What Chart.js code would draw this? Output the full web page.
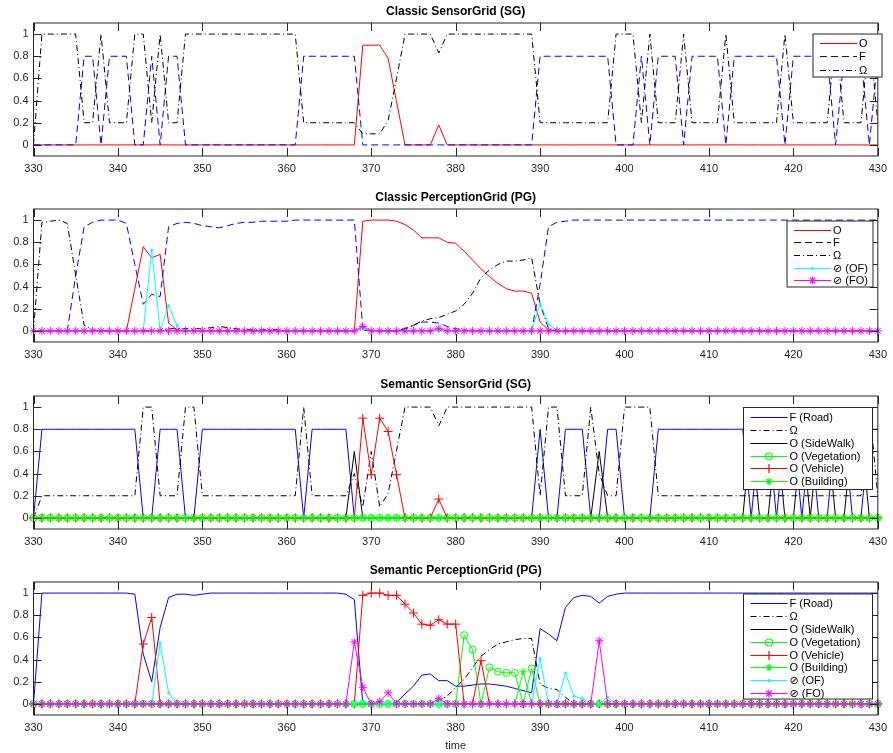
<!DOCTYPE html>
<html>
<head>
<meta charset="utf-8">
<script src="https://cdn.jsdelivr.net/npm/chart.js@4.4.0/dist/chart.umd.min.js"></script>
<style>
  body { margin: 0; background: #fff; }
  #wrap { position: relative; width: 893px; height: 753px; }
  canvas { position: absolute; left: 0; }
</style>
</head>
<body>
<div id="wrap">
  <canvas id="c1" width="893" height="180" style="top:0px"></canvas>
  <canvas id="c2" width="893" height="180" style="top:186px"></canvas>
  <canvas id="c3" width="893" height="180" style="top:373px"></canvas>
  <canvas id="c4" width="893" height="194" style="top:559px"></canvas>
</div>
<script>
// time steps (x categories)
const time = [
  330, 331, 332, 333, 334, 335, 336, 337, 338, 339,
  340, 341, 342, 343, 344, 345, 346, 347, 348, 349,
  350, 351, 352, 353, 354, 355, 356, 357, 358, 359,
  360, 361, 362, 363, 364, 365, 366, 367, 368, 369,
  370, 371, 372, 373, 374, 375, 376, 377, 378, 379,
  380, 381, 382, 383, 384, 385, 386, 387, 388, 389,
  390, 391, 392, 393, 394, 395, 396, 397, 398, 399,
  400, 401, 402, 403, 404, 405, 406, 407, 408, 409,
  410, 411, 412, 413, 414, 415, 416, 417, 418, 419,
  420, 421, 422, 423, 424, 425, 426, 427, 428, 429,
  430
];
const yTicks = [0, 0.2, 0.4, 0.6, 0.8, 1];
const yTickLabels = ["0", "0.2", "0.4", "0.6", "0.8", "1"];

// Classic SensorGrid
const sgO = [
  0, 0, 0, 0, 0, 0, 0, 0, 0, 0,
  0, 0, 0, 0, 0, 0, 0, 0, 0, 0,
  0, 0, 0, 0, 0, 0, 0, 0, 0, 0,
  0, 0, 0, 0, 0, 0, 0, 0, 0, 0.9,
  0.9, 0.9, 0.78, 0.39, 0, 0, 0, 0, 0.18, 0,
  0, 0, 0, 0, 0, 0, 0, 0, 0, 0,
  0, 0, 0, 0, 0, 0, 0, 0, 0, 0,
  0, 0, 0, 0, 0, 0, 0, 0, 0, 0,
  0, 0, 0, 0, 0, 0, 0, 0, 0, 0,
  0, 0, 0, 0, 0, 0, 0, 0, 0, 0,
  0
];
const sgF = [
  0, 0, 0, 0, 0, 0, 0.8, 0.8, 0, 0.8,
  0.8, 0.8, 0, 0, 0.8, 0, 0.8, 0.8, 0, 0,
  0, 0, 0, 0, 0, 0, 0, 0, 0, 0,
  0, 0, 0.8, 0.8, 0.8, 0.8, 0.8, 0.8, 0.8, 0,
  0, 0, 0, 0, 0, 0, 0, 0, 0, 0,
  0, 0, 0, 0, 0, 0, 0, 0, 0, 0,
  0.8, 0.8, 0.8, 0.8, 0.8, 0.8, 0.8, 0.8, 0.8, 0,
  0, 0, 0.8, 0, 0.8, 0.8, 0.8, 0, 0.8, 0.8,
  0.8, 0.8, 0, 0.8, 0.8, 0.8, 0.8, 0.8, 0.8, 0,
  0.8, 0.8, 0.8, 0.8, 0.8, 0, 0.8, 0.8, 0.8, 0,
  0.8
];
const sgOmega = [
  0, 1, 1, 1, 1, 1, 0.2, 0.2, 1, 0.2,
  0.2, 0.2, 1, 1, 0.2, 1, 0.2, 0.2, 1, 1,
  1, 1, 1, 1, 1, 1, 1, 1, 1, 1,
  1, 1, 0.2, 0.2, 0.2, 0.2, 0.2, 0.2, 0.2, 0.1,
  0.1, 0.1, 0.22, 0.6, 1, 1, 1, 1, 0.83, 1,
  1, 1, 1, 1, 1, 1, 1, 1, 1, 1,
  0.2, 0.2, 0.2, 0.2, 0.2, 0.2, 0.2, 0.2, 0.2, 1,
  1, 1, 0.2, 1, 0.2, 0.2, 0.2, 1, 0.2, 0.2,
  0.2, 0.2, 1, 0.2, 0.2, 0.2, 0.2, 0.2, 0.2, 1,
  0.2, 0.2, 0.2, 0.2, 0.2, 1, 0.2, 0.2, 0.2, 1,
  0.2
];

// Classic PerceptionGrid
const pgO = [
  0, 0, 0, 0, 0, 0, 0, 0, 0, 0,
  0, 0, 0.38, 0.76, 0.66, 0.69, 0.07, 0.01, 0, 0,
  0, 0, 0, 0, 0, 0, 0, 0, 0, 0,
  0, 0, 0, 0, 0, 0, 0, 0, 0, 0.99,
  1, 1, 1, 0.99, 0.96, 0.91, 0.84, 0.84, 0.84, 0.8,
  0.79, 0.72, 0.64, 0.56, 0.49, 0.43, 0.38, 0.36, 0.36, 0.34,
  0.08, 0.01, 0, 0, 0, 0, 0, 0, 0, 0,
  0, 0, 0, 0, 0, 0, 0, 0, 0, 0,
  0, 0, 0, 0, 0, 0, 0, 0, 0, 0,
  0, 0, 0, 0, 0, 0, 0, 0, 0, 0,
  0
];
const pgF = [
  0, 0, 0, 0, 0, 0.5, 0.94, 0.98, 1, 1,
  1, 0.97, 0.6, 0.24, 0.33, 0.31, 0.94, 0.97, 0.98, 0.97,
  0.95, 0.94, 0.93, 0.95, 0.97, 0.98, 0.98, 0.99, 0.99, 0.99,
  0.99, 1, 1, 1, 1, 1, 1, 1, 1, 0.02,
  0, 0, 0, 0, 0.02, 0.05, 0.08, 0.08, 0.07, 0.04,
  0.02, 0.01, 0, 0, 0, 0, 0, 0, 0, 0,
  0.42, 0.94, 0.98, 0.99, 1, 1, 1, 1, 1, 1,
  1, 1, 1, 1, 1, 1, 1, 1, 1, 1,
  1, 1, 1, 1, 1, 1, 1, 1, 1, 1,
  1, 1, 1, 1, 1, 1, 1, 1, 1, 1,
  1
];
const pgOmega = [
  0, 0.98, 0.99, 1, 0.97, 0.5, 0.05, 0.01, 0, 0,
  0, 0, 0, 0, 0, 0, 0.02, 0.02, 0.02, 0.02,
  0.02, 0.03, 0.04, 0.03, 0.02, 0.01, 0.01, 0.01, 0.01, 0.01,
  0, 0, 0, 0, 0, 0, 0, 0, 0, 0.01,
  0, 0, 0, 0, 0.02, 0.05, 0.09, 0.11, 0.12, 0.15,
  0.18, 0.24, 0.34, 0.48, 0.55, 0.6, 0.63, 0.63, 0.64, 0.66,
  0.24, 0.02, 0, 0, 0, 0, 0, 0, 0, 0,
  0, 0, 0, 0, 0, 0, 0, 0, 0, 0,
  0, 0, 0, 0, 0, 0, 0, 0, 0, 0,
  0, 0, 0, 0, 0, 0, 0, 0, 0, 0,
  0
];
const pgOF = [
  0, 0, 0, 0, 0, 0, 0, 0, 0, 0,
  0, 0, 0, 0, 0.73, 0, 0.23, 0.05, 0, 0,
  0, 0, 0, 0, 0, 0, 0, 0, 0, 0,
  0, 0, 0, 0, 0, 0, 0, 0, 0, 0.02,
  0, 0, 0, 0, 0, 0, 0, 0, 0, 0,
  0, 0, 0, 0, 0, 0, 0, 0, 0, 0,
  0.25, 0.06, 0.01, 0, 0, 0, 0, 0, 0, 0,
  0, 0, 0, 0, 0, 0, 0, 0, 0, 0,
  0, 0, 0, 0, 0, 0, 0, 0, 0, 0,
  0, 0, 0, 0, 0, 0, 0, 0, 0, 0,
  0
];
const pgFO = [
  0, 0, 0, 0, 0, 0, 0, 0, 0, 0,
  0, 0, 0, 0, 0, 0, 0, 0, 0, 0,
  0, 0, 0, 0, 0, 0, 0, 0, 0, 0,
  0, 0, 0, 0, 0, 0, 0, 0, 0, 0.04,
  0, 0, 0, 0, 0, 0, 0, 0, 0.02, 0,
  0, 0, 0, 0, 0, 0, 0, 0, 0, 0,
  0, 0, 0, 0, 0, 0, 0, 0, 0, 0,
  0, 0, 0, 0, 0, 0, 0, 0, 0, 0,
  0, 0, 0, 0, 0, 0, 0, 0, 0, 0,
  0, 0, 0, 0, 0, 0, 0, 0, 0, 0,
  0
];

// Semantic SensorGrid
const ssgRoad = [
  0, 0.8, 0.8, 0.8, 0.8, 0.8, 0.8, 0.8, 0.8, 0.8,
  0.8, 0.8, 0.8, 0, 0, 0.8, 0.8, 0.8, 0, 0,
  0.8, 0.8, 0.8, 0.8, 0.8, 0.8, 0.8, 0.8, 0.8, 0.8,
  0.8, 0.8, 0, 0.8, 0.8, 0.8, 0.8, 0.8, 0, 0,
  0, 0, 0, 0, 0, 0, 0, 0, 0, 0,
  0, 0, 0, 0, 0, 0, 0, 0, 0, 0,
  0.8, 0, 0, 0.8, 0.8, 0.8, 0, 0, 0.8, 0.8,
  0, 0, 0, 0, 0.8, 0.8, 0.8, 0.8, 0.8, 0.8,
  0.8, 0.8, 0.8, 0.8, 0.8, 0, 0.8, 0.8, 0, 0.8,
  0.8, 0, 0.8, 0, 0, 0.8, 0.8, 0, 0, 0.8,
  0.8
];
const ssgOmega = [
  0, 0.2, 0.2, 0.2, 0.2, 0.2, 0.2, 0.2, 0.2, 0.2,
  0.2, 0.2, 0.2, 1, 1, 0.2, 0.2, 0.2, 1, 1,
  0.2, 0.2, 0.2, 0.2, 0.2, 0.2, 0.2, 0.2, 0.2, 0.2,
  0.2, 0.2, 1, 0.2, 0.2, 0.2, 0.2, 0.2, 0.4, 0.1,
  0.6, 0.1, 0.22, 0.61, 1, 1, 1, 1, 0.83, 1,
  1, 1, 1, 1, 1, 1, 1, 1, 1, 1,
  0.2, 1, 1, 0.2, 0.2, 0.2, 1, 0.4, 0.2, 0.2,
  1, 1, 1, 1, 0.2, 0.2, 0.2, 0.2, 0.2, 0.2,
  0.2, 0.2, 0.2, 0.2, 0.2, 0.2, 0.2, 0.2, 0.2, 0.2,
  0.2, 0.2, 0.2, 0.2, 0.2, 0.2, 0.2, 0.2, 0.2, 1,
  0.2
];
const ssgSideWalk = [
  0, 0, 0, 0, 0, 0, 0, 0, 0, 0,
  0, 0, 0, 0, 0, 0, 0, 0, 0, 0,
  0, 0, 0, 0, 0, 0, 0, 0, 0, 0,
  0, 0, 0, 0, 0, 0, 0, 0, 0.6, 0,
  0, 0, 0, 0, 0, 0, 0, 0, 0, 0,
  0, 0, 0, 0, 0, 0, 0, 0, 0, 0,
  0, 0, 0, 0, 0, 0, 0, 0.6, 0, 0,
  0, 0, 0, 0, 0, 0, 0, 0, 0, 0,
  0, 0, 0, 0, 0, 0.8, 0, 0, 0.8, 0,
  0, 0.8, 0, 0.8, 0.8, 0, 0, 0.8, 0.8, 0,
  0
];
const ssgVegetation = [
  0, 0, 0, 0, 0, 0, 0, 0, 0, 0,
  0, 0, 0, 0, 0, 0, 0, 0, 0, 0,
  0, 0, 0, 0, 0, 0, 0, 0, 0, 0,
  0, 0, 0, 0, 0, 0, 0, 0, 0, 0,
  0, 0, 0, 0, 0, 0, 0, 0, 0, 0,
  0, 0, 0, 0, 0, 0, 0, 0, 0, 0,
  0, 0, 0, 0, 0, 0, 0, 0, 0, 0,
  0, 0, 0, 0, 0, 0, 0, 0, 0, 0,
  0, 0, 0, 0, 0, 0, 0, 0, 0, 0,
  0, 0, 0, 0, 0, 0, 0, 0, 0, 0,
  0
];
const ssgVehicle = [
  0, 0, 0, 0, 0, 0, 0, 0, 0, 0,
  0, 0, 0, 0, 0, 0, 0, 0, 0, 0,
  0, 0, 0, 0, 0, 0, 0, 0, 0, 0,
  0, 0, 0, 0, 0, 0, 0, 0, 0, 0.9,
  0.39, 0.9, 0.78, 0.39, 0, 0, 0, 0, 0.17, 0,
  0, 0, 0, 0, 0, 0, 0, 0, 0, 0,
  0, 0, 0, 0, 0, 0, 0, 0, 0, 0,
  0, 0, 0, 0, 0, 0, 0, 0, 0, 0,
  0, 0, 0, 0, 0, 0, 0, 0, 0, 0,
  0, 0, 0, 0, 0, 0, 0, 0, 0, 0,
  0
];
const ssgBuilding = ssgVegetation.slice();

// Semantic PerceptionGrid
const spgRoad = [
  0, 1, 1, 1, 1, 1, 1, 1, 1, 1,
  1, 1, 0.99, 0.45, 0.2, 0.69, 0.96, 0.99, 0.99, 0.98,
  0.99, 1, 1, 1, 1, 1, 1, 1, 1, 1,
  1, 1, 1, 1, 1, 1, 1, 0.99, 0.94, 0,
  0, 0, 0, 0.01, 0.09, 0.16, 0.26, 0.27, 0.21, 0.21,
  0.16, 0.16, 0.17, 0.18, 0.18, 0.17, 0.16, 0.14, 0.12, 0.1,
  0.68, 0.63, 0.57, 0.87, 0.96, 0.98, 0.97, 0.91, 0.97, 0.99,
  1, 1, 1, 1, 1, 1, 1, 1, 1, 1,
  1, 1, 1, 1, 1, 1, 1, 1, 1, 1,
  1, 1, 1, 1, 1, 1, 1, 1, 1, 1,
  1
];
const spgOmega = [
  0, 0, 0, 0, 0, 0, 0, 0, 0, 0,
  0, 0, 0, 0, 0, 0, 0, 0, 0, 0,
  0, 0, 0, 0, 0, 0, 0, 0, 0, 0,
  0, 0, 0, 0, 0, 0, 0, 0, 0, 0,
  0, 0, 0, 0, 0, 0, 0, 0, 0.03, 0.07,
  0.15, 0.22, 0.33, 0.43, 0.49, 0.54, 0.56, 0.58, 0.59, 0.59,
  0.18, 0.14, 0.13, 0.06, 0, 0, 0, 0, 0, 0,
  0, 0, 0, 0, 0, 0, 0, 0, 0, 0,
  0, 0, 0, 0, 0, 0, 0, 0, 0, 0,
  0, 0, 0, 0, 0, 0, 0, 0, 0, 0,
  0
];
const spgSideWalk = ssgVegetation.slice();
const spgVegetation = [
  0, 0, 0, 0, 0, 0, 0, 0, 0, 0,
  0, 0, 0, 0, 0, 0, 0, 0, 0, 0,
  0, 0, 0, 0, 0, 0, 0, 0, 0, 0,
  0, 0, 0, 0, 0, 0, 0, 0, 0, 0,
  0, 0, 0, 0, 0, 0, 0, 0, 0, 0,
  0, 0.62, 0.49, 0, 0.33, 0.29, 0.28, 0.28, 0, 0.32,
  0, 0, 0, 0, 0, 0, 0, 0, 0, 0,
  0, 0, 0, 0, 0, 0, 0, 0, 0, 0,
  0, 0, 0, 0, 0, 0, 0, 0, 0, 0,
  0, 0, 0, 0, 0, 0, 0, 0, 0, 0,
  0
];
const spgVehicle = [
  0, 0, 0, 0, 0, 0, 0, 0, 0, 0,
  0, 0, 0, 0.54, 0.78, 0, 0, 0, 0, 0,
  0, 0, 0, 0, 0, 0, 0, 0, 0, 0,
  0, 0, 0, 0, 0, 0, 0, 0, 0, 0.98,
  1, 1, 0.98, 0.98, 0.9, 0.82, 0.72, 0.71, 0.76, 0.72,
  0.72, 0, 0, 0.39, 0, 0, 0, 0, 0, 0,
  0, 0, 0, 0, 0, 0, 0, 0, 0, 0,
  0, 0, 0, 0, 0, 0, 0, 0, 0, 0,
  0, 0, 0, 0, 0, 0, 0, 0, 0, 0,
  0, 0, 0, 0, 0, 0, 0, 0, 0, 0,
  0
];
const spgBuilding = [
  0, 0, 0, 0, 0, 0, 0, 0, 0, 0,
  0, 0, 0, 0, 0, 0, 0, 0, 0, 0,
  0, 0, 0, 0, 0, 0, 0, 0, 0, 0,
  0, 0, 0, 0, 0, 0, 0, 0, 0, 0,
  0, 0, 0, 0, 0, 0, 0, 0, 0, 0,
  0, 0, 0, 0, 0, 0, 0, 0, 0.29, 0,
  0, 0, 0, 0, 0, 0, 0, 0, 0, 0,
  0, 0, 0, 0, 0, 0, 0, 0, 0, 0,
  0, 0, 0, 0, 0, 0, 0, 0, 0, 0,
  0, 0, 0, 0, 0, 0, 0, 0, 0, 0,
  0
];
const spgOF = [
  0, 0, 0, 0, 0, 0, 0, 0, 0, 0,
  0, 0, 0.01, 0.01, 0, 0.55, 0.1, 0.01, 0, 0,
  0, 0, 0, 0, 0, 0, 0, 0, 0, 0,
  0, 0, 0, 0, 0, 0, 0, 0, 0, 0.02,
  0, 0, 0, 0, 0, 0, 0, 0, 0, 0,
  0, 0, 0, 0, 0, 0, 0, 0, 0, 0,
  0.41, 0, 0, 0.28, 0.07, 0.05, 0, 0, 0.06, 0,
  0, 0, 0, 0, 0, 0, 0, 0, 0, 0,
  0, 0, 0, 0, 0, 0, 0, 0, 0, 0,
  0, 0, 0, 0, 0, 0, 0, 0, 0, 0,
  0
];
const spgFO = [
  0, 0, 0, 0, 0, 0, 0, 0, 0, 0,
  0, 0, 0, 0, 0, 0, 0, 0, 0, 0,
  0, 0, 0, 0, 0, 0, 0, 0, 0, 0,
  0, 0, 0, 0, 0, 0, 0, 0, 0.56, 0.15,
  0, 0.02, 0.1, 0, 0, 0, 0, 0, 0.05, 0,
  0, 0, 0, 0, 0, 0, 0, 0, 0, 0,
  0, 0, 0, 0, 0, 0, 0, 0.57, 0, 0,
  0, 0, 0, 0, 0, 0, 0, 0, 0, 0,
  0, 0, 0, 0, 0, 0, 0, 0, 0, 0,
  0, 0, 0, 0, 0, 0, 0, 0, 0, 0,
  0
];

const FONT = '"Liberation Sans", Arial, "DejaVu Sans", sans-serif';
const DASH = [7, 4];
const DASHDOT = [6, 3, 1, 3];

Chart.defaults.font.family = FONT;

function series(label, data, color, dash, marker, radius) {
  return {
    label: label,
    data: data,
    borderColor: color,
    backgroundColor: marker === "circle" && radius > 2 ? "rgba(0,0,0,0)" : color,
    borderWidth: 1,
    borderDash: dash || [],
    pointStyle: marker || "circle",
    pointRadius: marker ? radius : 0,
    pointBorderWidth: 1,
    pointHoverRadius: 0,
    tension: 0,
    fill: false,
    clip: false
  };
}

// MATLAB-ish box with inward ticks and the subplot title
const matAxes = {
  id: "matAxes",
  afterDraw(chart, args, opts) {
    const { ctx, chartArea: a, scales } = chart;
    ctx.save();
    ctx.strokeStyle = "#262626";
    ctx.lineWidth = 1;
    ctx.setLineDash([]);
    ctx.strokeRect(a.left, a.top, a.right - a.left, a.bottom - a.top);
    ctx.beginPath();
    scales.x.ticks.forEach(t => {
      const px = Math.round(scales.x.getPixelForValue(t.value)) + 0.5;
      ctx.moveTo(px, a.bottom); ctx.lineTo(px, a.bottom - 8);
      ctx.moveTo(px, a.top); ctx.lineTo(px, a.top + 8);
    });
    scales.y.ticks.forEach(t => {
      const py = Math.round(scales.y.getPixelForValue(t.value)) + 0.5;
      ctx.moveTo(a.left, py); ctx.lineTo(a.left + 8, py);
      ctx.moveTo(a.right, py); ctx.lineTo(a.right - 8, py);
    });
    ctx.stroke();
    ctx.fillStyle = "#000";
    ctx.font = "bold 12px " + FONT;
    ctx.textAlign = "center";
    ctx.textBaseline = "middle";
    ctx.fillText(opts.title, (a.left + a.right) / 2, a.top - 11);
    ctx.restore();
  }
};

// boxed legend inside the plot, like the original figure
const matLegend = {
  id: "matLegend",
  afterDraw(chart, args, L) {
    const ctx = chart.ctx;
    ctx.save();
    ctx.fillStyle = "#fff";
    ctx.fillRect(L.left, L.top, L.width, L.height);
    ctx.strokeStyle = "#262626";
    ctx.lineWidth = 1;
    ctx.strokeRect(L.left, L.top, L.width, L.height);
    chart.data.datasets.forEach((ds, i) => {
      const y = Math.round(L.top + L.first + i * L.rowH) + 0.5;
      ctx.strokeStyle = ds.borderColor;
      ctx.lineWidth = 1.2;
      ctx.setLineDash(ds.borderDash);
      ctx.beginPath();
      ctx.moveTo(L.left + 7, y);
      ctx.lineTo(L.left + 44, y);
      ctx.stroke();
      ctx.setLineDash([]);
      if (ds.pointRadius > 0) {
        ctx.fillStyle = ds.backgroundColor;
        Chart.helpers.drawPoint(ctx, { pointStyle: ds.pointStyle, radius: ds.pointRadius, borderWidth: 1, rotation: 0 }, L.left + 25.5, y);
      }
      ctx.fillStyle = "#000";
      ctx.font = "11px " + FONT;
      ctx.textAlign = "left";
      ctx.textBaseline = "middle";
      ctx.fillText(ds.label, L.left + 46, y);
    });
    ctx.restore();
  }
};

function makeChart(id, title, datasets, legendBox, showTime) {
  const n = datasets.length;
  datasets.forEach((d, i) => { d.order = n - i; });
  return new Chart(document.getElementById(id), {
    type: "line",
    data: { labels: time, datasets: datasets },
    options: {
      responsive: false,
      animation: false,
      events: [],
      layout: { padding: { top: 23, right: 9.5, left: 0, bottom: 0 } },
      scales: {
        x: {
          type: "linear",
          min: 330,
          max: 430,
          grid: { display: false, drawTicks: false },
          border: { display: false },
          ticks: { stepSize: 10, color: "#262626", font: { size: 11 }, padding: 6, maxRotation: 0, autoSkip: false },
          title: { display: showTime, text: "time", color: "#262626", font: { size: 11 }, padding: { top: 2, bottom: 0 } },
          afterFit(s) { s.height = showTime ? 38 : 24; }
        },
        y: {
          min: -0.1,
          max: 1.1,
          grid: { display: false, drawTicks: false },
          border: { display: false },
          afterBuildTicks(s) { s.ticks = yTicks.map(v => ({ value: v })); },
          ticks: { color: "#262626", font: { size: 11 }, padding: 5, callback: (v, i) => yTickLabels[i] },
          afterFit(s) { s.width = 33.5; }
        }
      },
      plugins: {
        legend: { display: false },
        tooltip: { enabled: false },
        matAxes: { title: title },
        matLegend: legendBox
      }
    },
    plugins: [matAxes, matLegend]
  });
}

makeChart("c1", "Classic SensorGrid (SG)", [
  series("O", sgO, "#ff0000"),
  series("F", sgF, "#0000ff", DASH),
  series("\u03A9", sgOmega, "#000000", DASHDOT)
], { left: 813, top: 34, width: 69, height: 43, first: 9, rowH: 13.4 }, false);

makeChart("c2", "Classic PerceptionGrid (PG)", [
  series("O", pgO, "#ff0000"),
  series("F", pgF, "#0000ff", DASH),
  series("\u03A9", pgOmega, "#000000", DASHDOT),
  series("\u2298 (OF)", pgOF, "#00ffff", null, "circle", 1),
  series("\u2298 (FO)", pgFO, "#ff00ff", null, "star", 4)
], { left: 787, top: 35, width: 86, height: 66, first: 8.5, rowH: 12.7 }, false);

makeChart("c3", "Semantic SensorGrid (SG)", [
  series("F (Road)", ssgRoad, "#0000ff"),
  series("\u03A9", ssgOmega, "#000000", DASHDOT),
  series("O (SideWalk)", ssgSideWalk, "#000000"),
  series("O (Vegetation)", ssgVegetation, "#00ff00", null, "circle", 3.5),
  series("O (Vehicle)", ssgVehicle, "#ff0000", null, "cross", 4.5),
  series("O (Building)", ssgBuilding, "#00ff00", null, "star", 3.5)
], { left: 743.5, top: 34.5, width: 129, height: 82, first: 9.8, rowH: 12.75 }, false);

makeChart("c4", "Semantic PerceptionGrid (PG)", [
  series("F (Road)", spgRoad, "#0000ff"),
  series("\u03A9", spgOmega, "#000000", DASHDOT),
  series("O (SideWalk)", spgSideWalk, "#000000"),
  series("O (Vegetation)", spgVegetation, "#00ff00", null, "circle", 3.5),
  series("O (Vehicle)", spgVehicle, "#ff0000", null, "cross", 4.5),
  series("O (Building)", spgBuilding, "#00ff00", null, "star", 3.5),
  series("\u2298 (OF)", spgOF, "#00ffff", null, "circle", 1),
  series("\u2298 (FO)", spgFO, "#ff00ff", null, "star", 4)
], { left: 743.5, top: 35, width: 129, height: 105, first: 9.3, rowH: 12.8 }, true);
</script>
</body>
</html>
